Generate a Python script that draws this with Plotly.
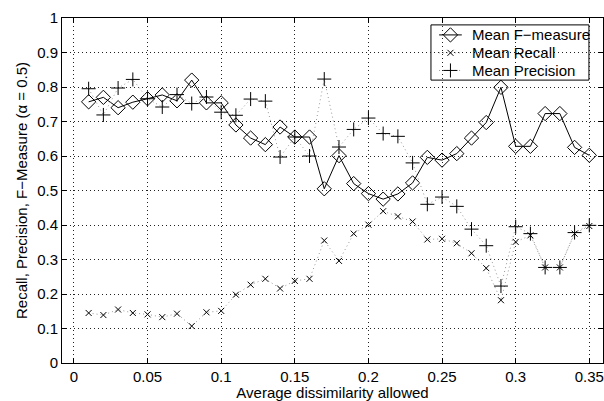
import plotly.graph_objects as go

x = [round(0.01 * i, 2) for i in range(1, 36)]

f_measure = [0.757, 0.770, 0.740, 0.756, 0.766, 0.777, 0.760, 0.820, 0.754, 0.754,
             0.690, 0.652, 0.633, 0.684, 0.655, 0.655, 0.505, 0.601, 0.520, 0.491,
             0.475, 0.490, 0.522, 0.596, 0.588, 0.607, 0.652, 0.697, 0.799, 0.628,
             0.628, 0.723, 0.723, 0.625, 0.602]

recall = [0.145, 0.139, 0.155, 0.145, 0.141, 0.133, 0.143, 0.107, 0.147, 0.151,
          0.198, 0.227, 0.244, 0.216, 0.238, 0.244, 0.355, 0.296, 0.375, 0.401,
          0.440, 0.425, 0.410, 0.358, 0.360, 0.347, 0.318, 0.275, 0.182, 0.351,
          0.370, 0.277, 0.277, 0.375, 0.397]

precision = [0.795, 0.719, 0.797, 0.822, 0.766, 0.742, 0.778, 0.752, 0.771, 0.727,
             0.718, 0.765, 0.759, 0.597, 0.655, 0.600, 0.823, 0.626, 0.677, 0.710,
             0.665, 0.657, 0.580, 0.460, 0.481, 0.454, 0.388, 0.340, 0.223, 0.395,
             0.375, 0.277, 0.277, 0.378, 0.399]

series_names = ["Mean F\u2212measure", "Mean Recall", "Mean Precision"]

x_ticks = [0, 0.05, 0.1, 0.15, 0.2, 0.25, 0.3, 0.35]
x_tick_labels = ["0", "0.05", "0.1", "0.15", "0.2", "0.25", "0.3", "0.35"]
y_ticks = [round(0.1 * i, 1) for i in range(11)]
y_tick_labels = ["0", "0.1", "0.2", "0.3", "0.4", "0.5", "0.6", "0.7", "0.8", "0.9", "1"]

FONT = "Liberation Sans, Arial"
FS = 15

styles = [
    dict(line=dict(color="black", width=1),
         marker=dict(symbol="diamond-open", size=11, color="black", line=dict(width=1))),
    dict(line=dict(color="#999999", width=1, dash="1px,3px"),
         marker=dict(symbol="x-thin-open", size=6, color="black", line=dict(width=1, color="black"))),
    dict(line=dict(color="#999999", width=1, dash="1px,3px"),
         marker=dict(symbol="cross-thin-open", size=10, color="black", line=dict(width=1, color="black"))),
]

fig = go.Figure()
for name, vals, st in zip(series_names, [f_measure, recall, precision], styles):
    fig.add_trace(go.Scatter(x=x, y=vals, name=name, mode="lines+markers",
                             showlegend=False, **st))

# manual legend (box in paper space, samples on a hidden overlay axis)
leg_x0, leg_x1, leg_y0, leg_y1 = 0.682, 0.974, 0.820, 0.980
row_y = [0.951, 0.899, 0.848]
samp_x = [0.697, 0.739]
samp_mid = 0.718
text_x = 0.755

fig.add_shape(type="rect", xref="paper", yref="paper", x0=leg_x0, x1=leg_x1,
              y0=leg_y0, y1=leg_y1, fillcolor="white", line=dict(color="black", width=1),
              layer="between")
for name, ry, st in zip(series_names, row_y, styles):
    fig.add_trace(go.Scatter(x=samp_x, y=[ry, ry], mode="lines", line=st["line"],
                             xaxis="x2", yaxis="y2", showlegend=False, hoverinfo="skip"))
    fig.add_trace(go.Scatter(x=[samp_mid], y=[ry], mode="markers", marker=st["marker"],
                             xaxis="x2", yaxis="y2", showlegend=False, hoverinfo="skip"))
    fig.add_annotation(text=name, xref="paper", yref="paper", x=text_x, y=ry,
                       xanchor="left", yanchor="middle", showarrow=False,
                       font=dict(family=FONT, size=FS, color="black"))

axis_common = dict(
    showline=True, linecolor="black", linewidth=1, mirror="ticks",
    ticks="inside", ticklen=5, tickcolor="black",
    showgrid=True, gridcolor="#222222", griddash="1px,3px", gridwidth=1,
    zeroline=False, tickfont=dict(family=FONT, size=FS, color="black"),
)

fig.update_xaxes(range=[-0.0081, 0.3593], tickvals=x_ticks, ticktext=x_tick_labels,
                 title=dict(text="Average dissimilarity allowed", standoff=0,
                            font=dict(family=FONT, size=FS, color="black")),
                 **axis_common)
fig.update_yaxes(range=[0, 1], tickvals=y_ticks, ticktext=y_tick_labels,
                 title=dict(text="Recall, Precision, F\u2212Measure (\u03b1 = 0.5)", standoff=5,
                            font=dict(family=FONT, size=FS, color="black")),
                 **axis_common)

fig.update_layout(
    width=604, height=401,
    margin=dict(l=62, r=1, t=18, b=38),
    plot_bgcolor="white", paper_bgcolor="white",
    font=dict(family=FONT, size=FS, color="black"),
    xaxis2=dict(overlaying="x", range=[0, 1], visible=False, fixedrange=True),
    yaxis2=dict(overlaying="y", range=[0, 1], visible=False, fixedrange=True),
    showlegend=False,
)

fig.write_html("out.html")
